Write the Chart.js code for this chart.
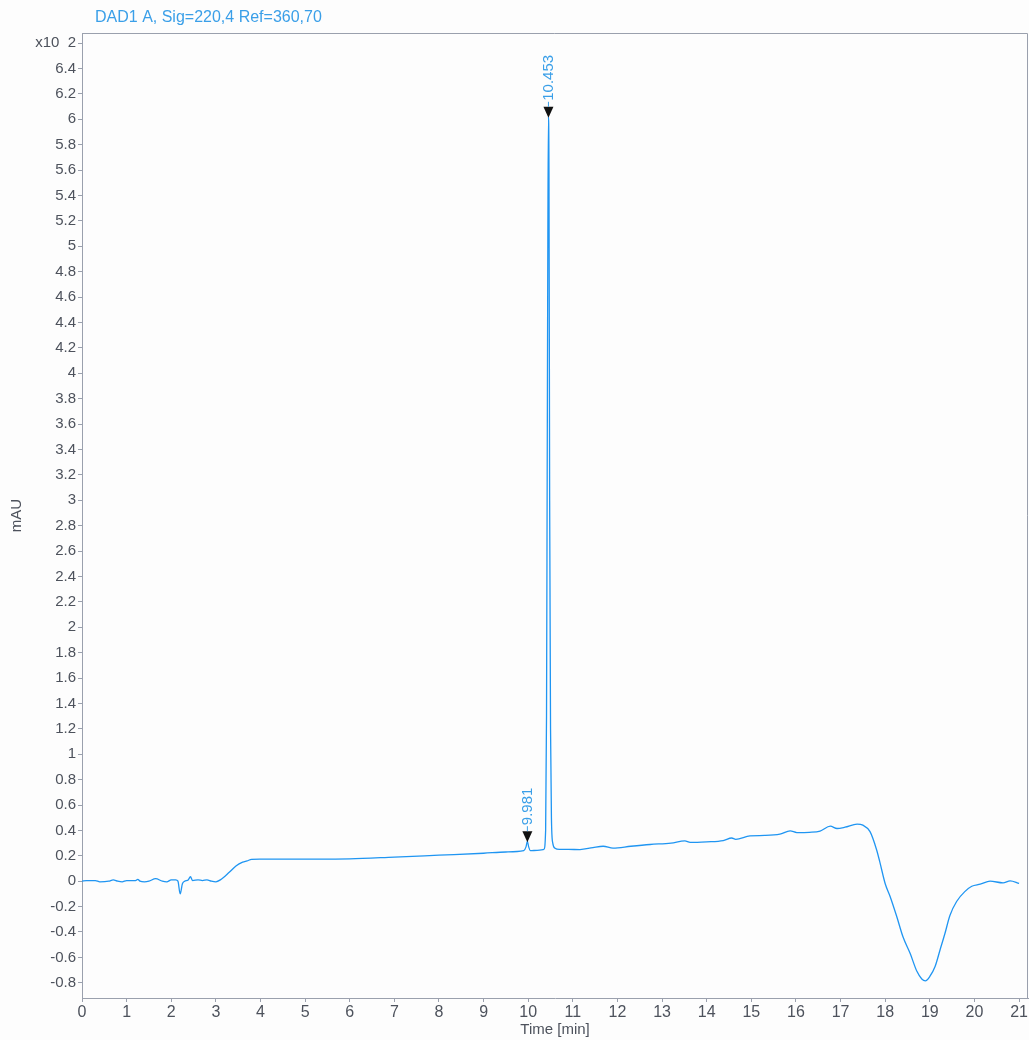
<!DOCTYPE html>
<html lang="en">
<head>
  <meta charset="UTF-8" />
  <title>DAD1 A, Sig=220,4 Ref=360,70</title>
  <script src="https://cdn.jsdelivr.net/npm/chart.js"></script>
  <style>
    html, body { margin: 0; padding: 0; background: #fdfdfd; }
    .wrap { width: 1029px; height: 1040px; position: relative; }
  </style>
</head>
<body>
  <div class="wrap">
    <canvas id="chroma" width="1029" height="1040"></canvas>
  </div>

  <script>
    // retention time (min) and signal (mAU x10^2)
    const times = [
      0, 0.1, 0.3, 0.4, 0.6, 0.7, 0.8, 0.9, 1.0, 1.2, 1.25, 1.3, 1.4, 1.5, 1.65, 1.8, 1.9, 2.0, 2.1, 2.15,
      2.2, 2.25, 2.3, 2.38, 2.43, 2.48, 2.6, 2.7, 2.8, 2.9, 3.0, 3.1, 3.3, 3.45, 3.6, 3.7, 3.8, 4.0, 5.0, 6.0,
      7.0, 8.0, 9.0, 9.5, 9.9, 9.95, 9.981, 10.01, 10.05, 10.2, 10.35, 10.39, 10.41, 10.425, 10.44, 10.453,
      10.465, 10.48, 10.5, 10.52, 10.55, 10.6, 10.7, 10.9, 11.16, 11.45, 11.68, 11.9, 12.3, 12.73, 13.2, 13.51,
      13.63, 14.0, 14.37, 14.56, 14.65, 14.97, 15.3, 15.64, 15.87, 16.02, 16.3, 16.54, 16.77, 16.92, 17.1,
      17.37, 17.5, 17.66, 17.81, 17.88, 18.0, 18.11, 18.26, 18.4, 18.56, 18.71, 18.82, 18.9, 19.0, 19.12,
      19.23, 19.34, 19.45, 19.6, 19.79, 19.94, 20.13, 20.35, 20.64, 20.8, 21.0
    ];
    const signal = [
      0.0, 0.005, 0.005, -0.005, 0.0, 0.01, 0.0, -0.005, 0.005, 0.005, 0.015, 0.0, -0.005, 0.0, 0.02, 0.0, -0.005, 0.01, 0.01, 0.0,
      -0.1, -0.02, 0.0, 0.01, 0.035, 0.005, 0.01, 0.005, 0.01, 0.0, -0.005, 0.01, 0.07, 0.12, 0.15, 0.16, 0.172, 0.173, 0.174, 0.176,
      0.19, 0.205, 0.22, 0.23, 0.24, 0.27, 0.315, 0.27, 0.24, 0.243, 0.25, 0.4, 1.3,
      3.2, 5.1, 6.02,
      5.6, 3.0, 1.2, 0.5, 0.3, 0.26, 0.25, 0.25, 0.249, 0.265, 0.275, 0.26, 0.275, 0.289, 0.3, 0.317,
      0.305, 0.31, 0.32, 0.34, 0.33, 0.357, 0.36, 0.37, 0.396, 0.383, 0.385, 0.394, 0.433, 0.415, 0.425,
      0.449, 0.441, 0.39, 0.244, 0.15, -0.02, -0.12, -0.28, -0.44, -0.57, -0.71, -0.77, -0.785, -0.75, -0.67,
      -0.54, -0.41, -0.27, -0.16, -0.08, -0.04, -0.024, 0.0, -0.013, 0.002, -0.018
    ];

    const xTicks = [0, 1, 2, 3, 4, 5, 6, 7, 8, 9, 10, 11, 12, 13, 14, 15, 16, 17, 18, 19, 20, 21];
    const yTicks = [
      -0.8, -0.6, -0.4, -0.2, 0, 0.2, 0.4, 0.6, 0.8, 1, 1.2, 1.4, 1.6, 1.8, 2, 2.2, 2.4, 2.6, 2.8, 3,
      3.2, 3.4, 3.6, 3.8, 4, 4.2, 4.4, 4.6, 4.8, 5, 5.2, 5.4, 5.6, 5.8, 6, 6.2, 6.4, 6.6
    ];

    // integrated peaks
    const peakTimes = [9.981, 10.453];
    const peakHeights = [0.315, 6.02];
    const peakLabels = ['9.981', '10.453'];

    const blue = '#1f95f2';
    const labelBlue = '#3a9fe8';
    const tickGrey = '#4d525c';
    const axisGrey = '#9aa0ad';
    const font = '"Liberation Sans", Arial, sans-serif';

    const points = times.map((t, i) => ({ x: t, y: signal[i] }));

    const frameAndPeaks = {
      id: 'frameAndPeaks',
      afterDatasetsDraw(chart) {
        const { ctx, chartArea: a, scales: { x, y } } = chart;
        ctx.save();

        // top and right frame
        ctx.strokeStyle = axisGrey;
        ctx.lineWidth = 1;
        ctx.beginPath();
        ctx.moveTo(a.left, a.top + 0.5);
        ctx.lineTo(a.right - 0.5, a.top + 0.5);
        ctx.lineTo(a.right - 0.5, a.bottom);
        ctx.stroke();

        // peak markers + rotated retention time labels
        peakTimes.forEach((t, i) => {
          const px = x.getPixelForValue(t);
          const py = y.getPixelForValue(peakHeights[i]);
          ctx.fillStyle = '#111';
          ctx.beginPath();
          ctx.moveTo(px - 5, py - 10);
          ctx.lineTo(px + 5, py - 10);
          ctx.lineTo(px, py + 1);
          ctx.closePath();
          ctx.fill();

          ctx.strokeStyle = labelBlue;
          ctx.beginPath();
          ctx.moveTo(px, py - 10);
          ctx.lineTo(px, py - 15);
          ctx.stroke();

          ctx.translate(px, py - 16);
          ctx.rotate(-Math.PI / 2);
          ctx.fillStyle = labelBlue;
          ctx.font = '15px ' + font;
          ctx.textAlign = 'left';
          ctx.textBaseline = 'middle';
          ctx.fillText(peakLabels[i], 0, 0);
          ctx.setTransform(1, 0, 0, 1, 0, 0);
        });

        // signal title
        ctx.fillStyle = labelBlue;
        ctx.font = '16px ' + font;
        ctx.textAlign = 'left';
        ctx.textBaseline = 'middle';
        ctx.fillText('DAD1 A, Sig=220,4 Ref=360,70', 95, 18);
        ctx.restore();
      }
    };

    new Chart(document.getElementById('chroma'), {
      type: 'line',
      data: {
        datasets: [{
          label: 'DAD1 A',
          data: points,
          borderColor: blue,
          borderWidth: 1.3,
          pointRadius: 0,
          fill: false,
          cubicInterpolationMode: 'monotone'
        }]
      },
      options: {
        responsive: false,
        animation: false,
        devicePixelRatio: 1,
        layout: { padding: { top: 33, right: 1, left: 0, bottom: 0 } },
        plugins: { legend: { display: false }, tooltip: { enabled: false } },
        scales: {
          x: {
            type: 'linear',
            min: 0,
            max: 21.2,
            afterBuildTicks: s => { s.ticks = xTicks.map(v => ({ value: v })); },
            afterFit: s => { s.height = 42; },
            grid: { drawOnChartArea: false, drawTicks: true, tickLength: 4, color: axisGrey },
            border: { display: true, color: axisGrey },
            ticks: { color: tickGrey, font: { family: font, size: 16 }, padding: 1, maxRotation: 0 },
            title: { display: true, text: 'Time [min]', color: tickGrey, font: { family: font, size: 15 }, padding: { top: 0, bottom: 1 } }
          },
          y: {
            type: 'linear',
            min: -0.92,
            max: 6.68,
            afterBuildTicks: s => { s.ticks = yTicks.map(v => ({ value: v })); },
            afterFit: s => { s.width = 82; },
            grid: { drawOnChartArea: false, drawTicks: true, tickLength: 4, color: axisGrey },
            border: { display: true, color: axisGrey },
            ticks: {
              color: tickGrey,
              font: { family: font, size: 15 },
              padding: 2,
              callback: v => (Math.abs(v - 6.6) < 1e-6 ? 'x10  2' : String(Math.round(v * 10) / 10))
            },
            title: { display: true, text: 'mAU', color: tickGrey, font: { family: font, size: 15 }, padding: { top: 8, bottom: 0 } }
          }
        }
      },
      plugins: [frameAndPeaks]
    });
  </script>
</body>
</html>
